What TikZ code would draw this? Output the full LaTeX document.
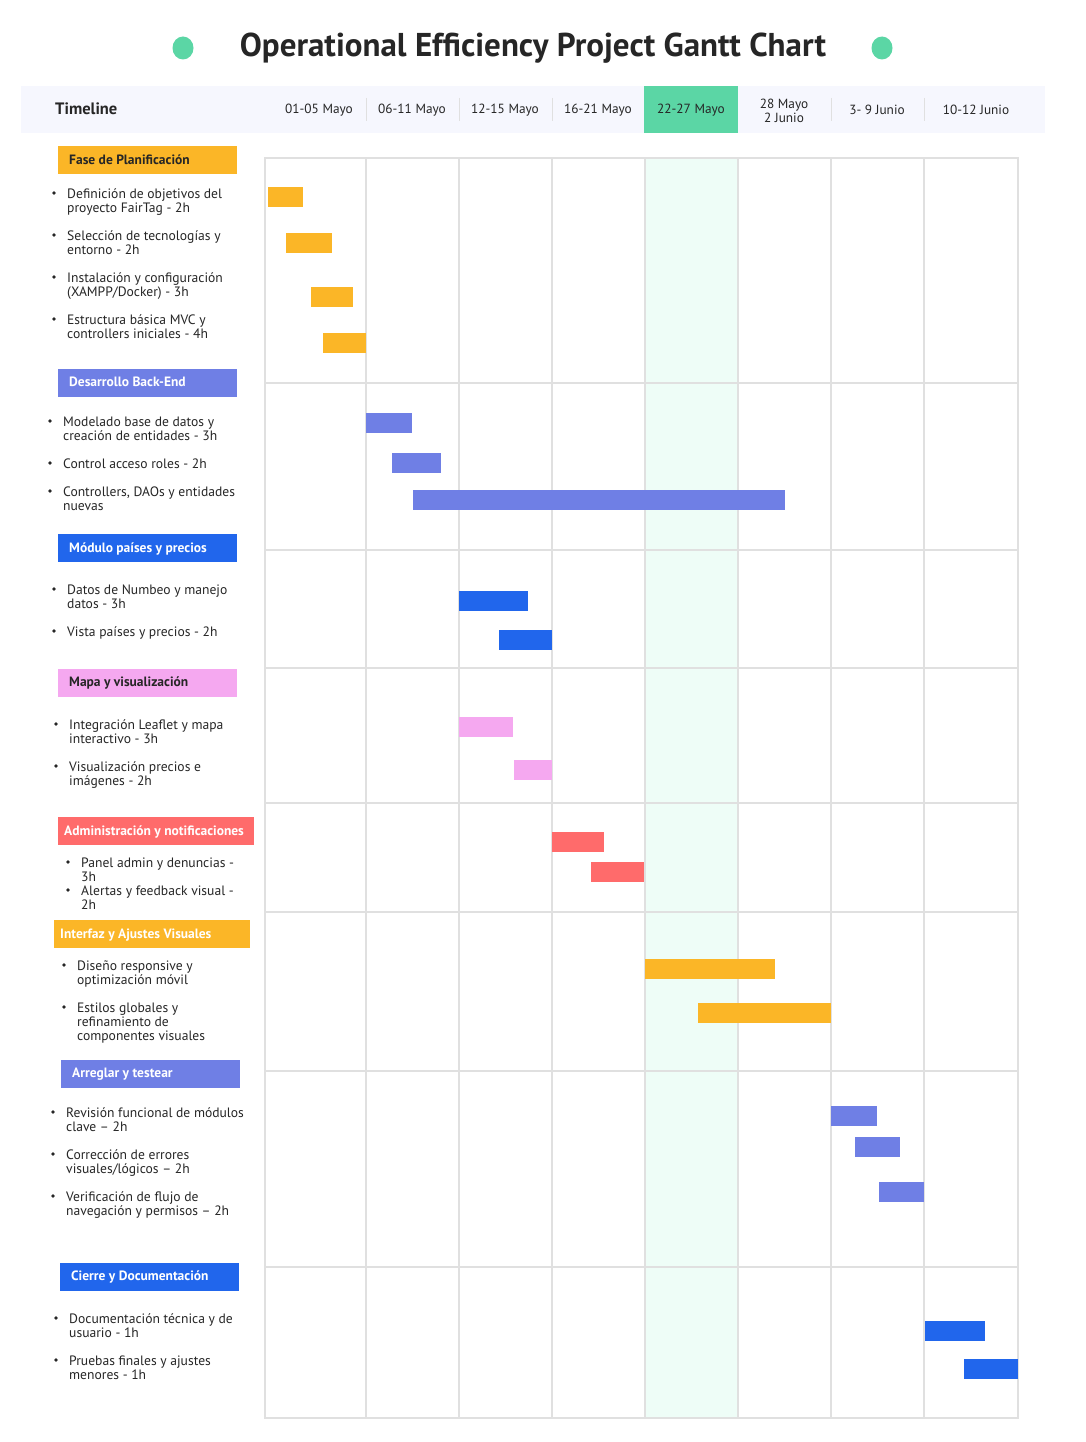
\documentclass[tikz,border=0pt]{standalone}
\usepackage{fontspec}
\usetikzlibrary{shapes.geometric}
\setmainfont{PT Sans}
\definecolor{orng}{HTML}{FBB627}
\definecolor{peri}{HTML}{6F7FE5}
\definecolor{blu}{HTML}{2166EC}
\definecolor{pnk}{HTML}{F5A8F0}
\definecolor{rd}{HTML}{FF6B6B}
\definecolor{grn}{HTML}{5BD6A5}
\definecolor{lgrn}{HTML}{EEFDF7}
\definecolor{hbg}{HTML}{F6F7FE}
\definecolor{grid}{HTML}{E0E0E0}
\definecolor{txt}{HTML}{262626}
\tikzset{
  sectext/.style={font=\fontsize{13.5}{15}\selectfont\bfseries, anchor=west, inner sep=0pt},
  item/.style={font=\fontsize{13.6}{14}\selectfont, text=txt, anchor=north west, inner sep=0pt, align=left},
  bul/.style={circle, fill=txt, inner sep=0pt, minimum size=3.6pt},
  colhead/.style={font=\fontsize{13.3}{14}\selectfont, text=txt, align=center, inner sep=0pt},
  gline/.style={draw=grid, line width=1.3pt},
  gdot/.style={ellipse, fill=grn, minimum width=21pt, minimum height=23pt, inner sep=0pt},
}
\begin{document}
\begin{tikzpicture}[x=1pt,y=-1pt]
\useasboundingbox[fill=white] (0,0) rectangle (1085,1442);
% title
\node[font=\fontsize{33}{36}\selectfont\bfseries, text=txt, inner sep=0pt] (title) at (533,48) {Operational Efficiency Project Gantt Chart};
\node[gdot] (dotl) at (183,48) {};
\node[gdot] (dotr) at (882,48) {};
% header band
\fill[hbg] (21,86) rectangle (1045,133);
\fill[grn] (644,86) rectangle (738,133);
\node[font=\fontsize{16.5}{18}\selectfont\bfseries, text=txt, anchor=west, inner sep=0pt] (tl) at (55,109) {Timeline};
\foreach \x in {366,459,552,831,924} \draw[grid, line width=1pt] (\x,98) -- (\x,121);
\node[colhead] (c1) at (319,110) {01-05 Mayo};
\node[colhead] (c2) at (412,110) {06-11 Mayo};
\node[colhead] (c3) at (505,110) {12-15 Mayo};
\node[colhead] (c4) at (598,110) {16-21 Mayo};
\node[colhead] (c5) at (691,110) {22-27 Mayo};
\node[colhead] (c6) at (784,111) {28 Mayo\\2 Junio};
\node[colhead] (c7) at (877,110) {3- 9 Junio};
\node[colhead] (c8) at (976,110) {10-12 Junio};
% grid
\fill[lgrn] (645,158) rectangle (738,1418);
\foreach \x in {366,459,552,645,738,831,924} \draw[gline] (\x,158) -- (\x,1418);
\foreach \y in {383,550,668,803,912,1071,1267} \draw[gline] (265,\y) -- (1018,\y);
\draw[gline] (265,158) rectangle (1018,1418);
% bars
\fill[orng] (268,187) rectangle (303,207);
\fill[orng] (286,233) rectangle (332,253);
\fill[orng] (311,287) rectangle (353,307);
\fill[orng] (323,333) rectangle (366,353);
\fill[peri] (366,413) rectangle (412,433);
\fill[peri] (392,453) rectangle (441,473);
\fill[peri] (413,490) rectangle (785,510);
\fill[blu] (459,591) rectangle (528,611);
\fill[blu] (499,630) rectangle (552,650);
\fill[pnk] (459,717) rectangle (513,737);
\fill[pnk] (514,760) rectangle (552,780);
\fill[rd] (552,832) rectangle (604,852);
\fill[rd] (591,862) rectangle (644,882);
\fill[orng] (645,959) rectangle (775,979);
\fill[orng] (698,1003) rectangle (831,1023);
\fill[peri] (831,1106) rectangle (877,1126);
\fill[peri] (855,1137) rectangle (900,1157);
\fill[peri] (879,1182) rectangle (924,1202);
\fill[blu] (925,1321) rectangle (985,1341);
\fill[blu] (964,1359) rectangle (1018,1379);
% section boxes
\fill[orng] (58,146) rectangle (237,174);
\node[sectext, text=txt] (s1) at (69,160) {Fase de Planificación};
\fill[peri] (58,369) rectangle (237,397);
\node[sectext, text=white] (s2) at (69,382) {Desarrollo Back-End};
\fill[blu] (58,534) rectangle (237,562);
\node[sectext, text=white] (s3) at (69,549) {Módulo países y precios};
\fill[pnk] (58,669) rectangle (237,697);
\node[sectext, text=txt] (s4) at (69,683) {Mapa y visualización};
\fill[rd] (58,817) rectangle (254,845);
\node[sectext, text=white] (s5) at (64,832) {Administración y notificaciones};
\fill[orng] (54,920) rectangle (250,948);
\node[sectext, text=white] (s6) at (60,935) {Interfaz y Ajustes Visuales};
\fill[peri] (61,1060) rectangle (240,1088);
\node[sectext, text=white] (s7) at (72,1074) {Arreglar y testear};
\fill[blu] (60,1263) rectangle (239,1291);
\node[sectext, text=white] (s8) at (71,1277) {Cierre y Documentación};
% items
\newcommand{\itm}[5]{\node[bul] (#1b) at (#2-13,#3) {}; \node[item] (#1) at (#2,#3-#4) {#5};}
\itm{p1}{67}{193}{4.5}{Definición de objetivos del\\proyecto FairTag - 2h}
\itm{p2}{67}{235}{4.5}{Selección de tecnologías y\\entorno - 2h}
\itm{p3}{67}{277}{4.5}{Instalación y configuración\\(XAMPP/Docker) - 3h}
\itm{p4}{67}{319}{4.5}{Estructura básica MVC y\\controllers iniciales - 4h}
\itm{b1}{63}{421}{4.5}{Modelado base de datos y\\creación de entidades - 3h}
\itm{b2}{63}{463}{4.5}{Control acceso roles - 2h}
\itm{b3}{63}{491}{4.5}{Controllers, DAOs y entidades\\nuevas}
\itm{m1}{67}{589}{4.5}{Datos de Numbeo y manejo\\datos - 3h}
\itm{m2}{67}{631}{4.5}{Vista países y precios - 2h}
\itm{v1}{69}{724}{4.5}{Integración Leaflet y mapa\\interactivo - 3h}
\itm{v2}{69}{766}{4.5}{Visualización precios e\\imágenes - 2h}
\itm{a1}{81}{862}{4.5}{Panel admin y denuncias -\\3h}
\itm{a2}{81}{890}{4.5}{Alertas y feedback visual -\\2h}
\itm{i1}{77}{965}{4.5}{Diseño responsive y\\optimización móvil}
\itm{i2}{77}{1007}{4.5}{Estilos globales y\\refinamiento de\\componentes visuales}
\itm{t1}{66}{1112}{4.5}{Revisión funcional de módulos\\clave – 2h}
\itm{t2}{66}{1154}{4.5}{Corrección de errores\\visuales/lógicos – 2h}
\itm{t3}{66}{1196}{4.5}{Verificación de flujo de\\navegación y permisos – 2h}
\itm{d1}{69}{1318}{4.5}{Documentación técnica y de\\usuario - 1h}
\itm{d2}{69}{1360}{4.5}{Pruebas finales y ajustes\\menores - 1h}
\end{tikzpicture}
\end{document}
